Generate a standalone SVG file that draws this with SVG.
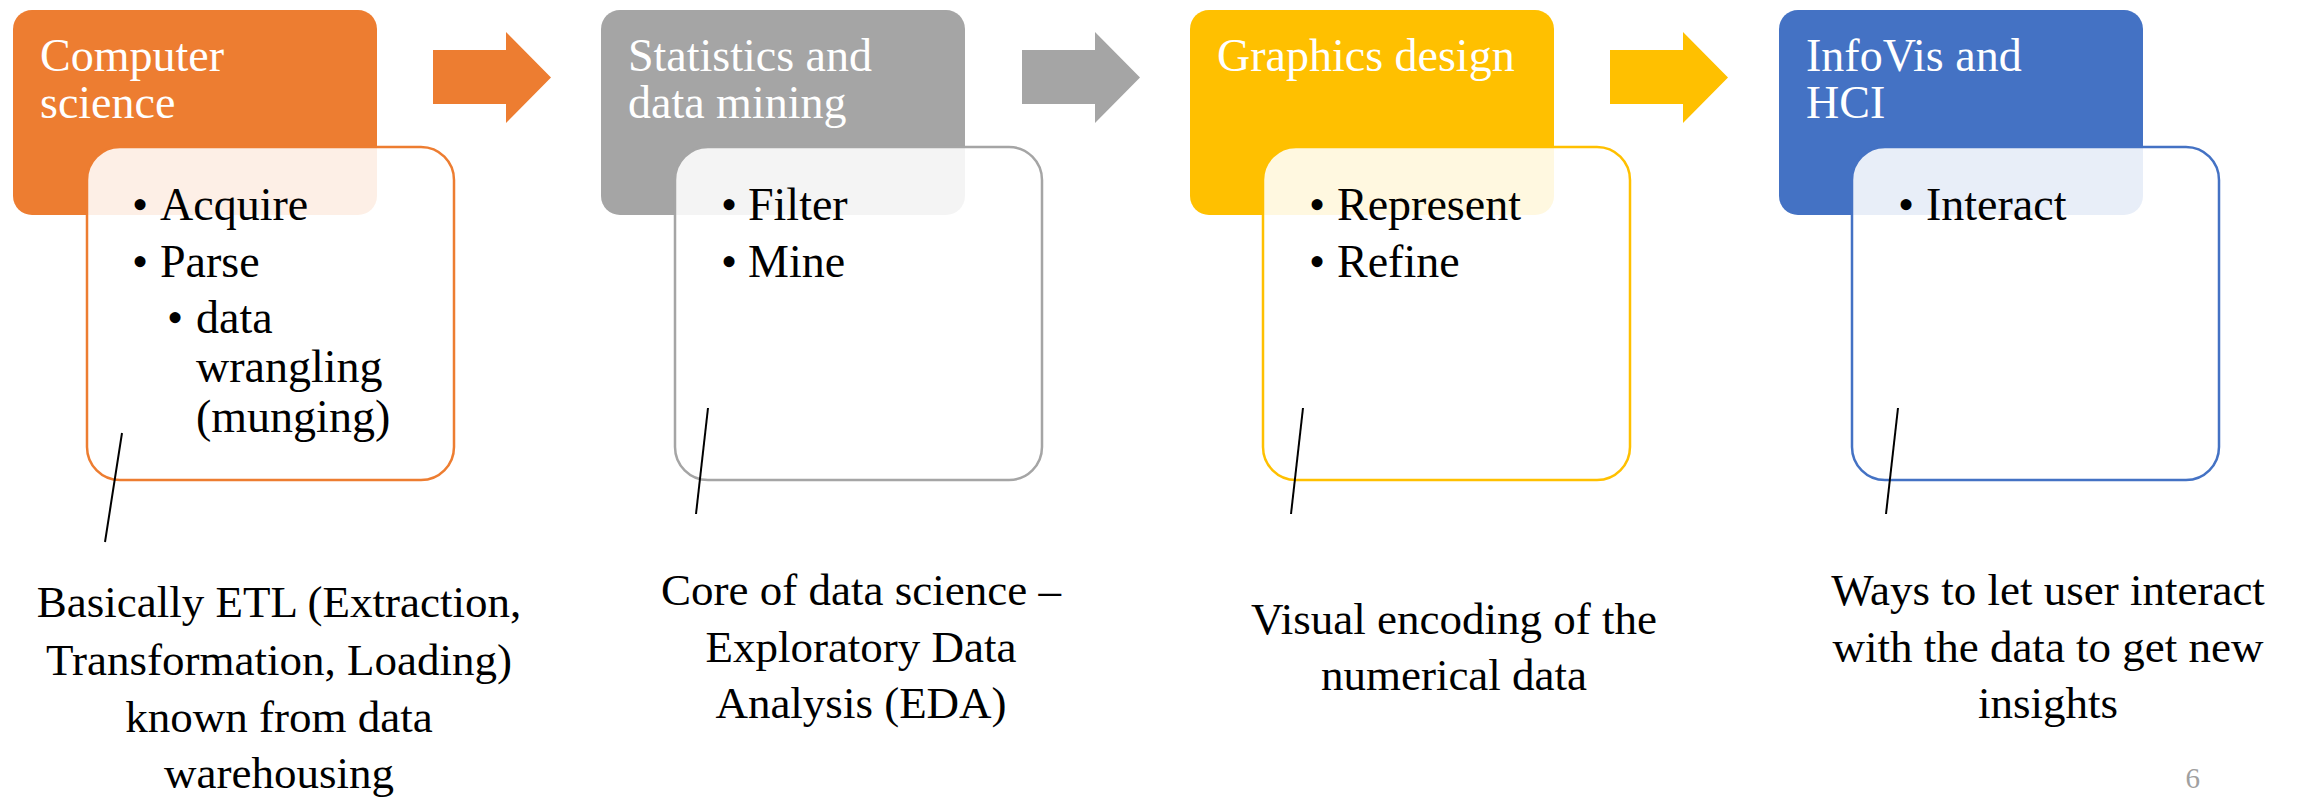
<svg xmlns="http://www.w3.org/2000/svg" width="2300" height="799" viewBox="0 0 2300 799" font-family="'Liberation Serif', 'Times New Roman', serif">
  <defs>
    <style>
      .head { fill: #ffffff; font-size: 46px; font-family: "Liberation Serif", "Times New Roman", serif; }
      .item { fill: #000000; font-size: 46px; font-family: "Liberation Serif", "Times New Roman", serif; }
      .note { fill: #000000; font-size: 45px; text-anchor: middle; font-family: "Liberation Serif", "Times New Roman", serif; }
      .card { fill: #ffffff; fill-opacity: 0.88; stroke-width: 2.5; }
      .lead { stroke: #000000; stroke-width: 2; fill: none; }
      .page { fill: #a0a0a0; font-size: 29px; text-anchor: end; font-family: "Liberation Serif", "Times New Roman", serif; }
    </style>
    <!-- block arrow shape, origin at shaft start -->
    <path id="blockArrow" d="M0,50 H73 V32 L118,77.5 L73,123 V104 H0 Z"/>
  </defs>

  <rect width="2300" height="799" fill="#ffffff"/>

  <!-- Stage 1: Computer science -->
  <g id="node-computer-science">
    <rect x="13" y="10" width="364" height="205" rx="19" fill="#ED7D31"/>
    <text class="head" x="40" y="71">Computer</text>
    <text class="head" x="40" y="118">science</text>
    <rect class="card" x="87" y="147" width="367" height="333" rx="33" stroke="#ED7D31"/>
    <text class="item" x="132" y="220">•</text>
    <text class="item" x="160" y="220">Acquire</text>
    <text class="item" x="132" y="277">•</text>
    <text class="item" x="160" y="277">Parse</text>
    <text class="item" x="167" y="333">•</text>
    <text class="item" x="196" y="333">data</text>
    <text class="item" x="196" y="382">wrangling</text>
    <text class="item" x="196" y="432">(munging)</text>
  </g>

  <!-- Stage 2: Statistics and data mining -->
  <g id="node-statistics">
    <rect x="601" y="10" width="364" height="205" rx="19" fill="#A5A5A5"/>
    <text class="head" x="628" y="71">Statistics and</text>
    <text class="head" x="628" y="118">data mining</text>
    <rect class="card" x="675" y="147" width="367" height="333" rx="33" stroke="#A5A5A5"/>
    <text class="item" x="721" y="220">•</text>
    <text class="item" x="748" y="220">Filter</text>
    <text class="item" x="721" y="277">•</text>
    <text class="item" x="748" y="277">Mine</text>
  </g>

  <!-- Stage 3: Graphics design -->
  <g id="node-graphics-design">
    <rect x="1190" y="10" width="364" height="205" rx="19" fill="#FFC000"/>
    <text class="head" x="1217" y="71">Graphics design</text>
    <rect class="card" x="1263" y="147" width="367" height="333" rx="33" stroke="#FFC000"/>
    <text class="item" x="1309" y="220">•</text>
    <text class="item" x="1337" y="220">Represent</text>
    <text class="item" x="1309" y="277">•</text>
    <text class="item" x="1337" y="277">Refine</text>
  </g>

  <!-- Stage 4: InfoVis and HCI -->
  <g id="node-infovis">
    <rect x="1779" y="10" width="364" height="205" rx="19" fill="#4472C4"/>
    <text class="head" x="1806" y="71">InfoVis and</text>
    <text class="head" x="1806" y="118">HCI</text>
    <rect class="card" x="1852" y="147" width="367" height="333" rx="33" stroke="#4472C4"/>
    <text class="item" x="1898" y="220">•</text>
    <text class="item" x="1926" y="220">Interact</text>
  </g>

  <!-- Flow arrows and callout leaders -->
  <g id="connectors">
    <use href="#blockArrow" x="433" y="0" fill="#ED7D31"/>
    <use href="#blockArrow" x="1022" y="0" fill="#A5A5A5"/>
    <use href="#blockArrow" x="1610" y="0" fill="#FFC000"/>
    <line class="lead" x1="122" y1="433" x2="105" y2="542"/>
    <line class="lead" x1="708" y1="408" x2="696" y2="514"/>
    <line class="lead" x1="1303" y1="408" x2="1291" y2="514"/>
    <line class="lead" x1="1898" y1="408" x2="1886" y2="514"/>
  </g>

  <!-- Descriptions below each stage -->
  <g id="note-etl">
    <text class="note" x="279" y="617">Basically ETL (Extraction,</text>
    <text class="note" x="279" y="675">Transformation, Loading)</text>
    <text class="note" x="279" y="732">known from data</text>
    <text class="note" x="279" y="788">warehousing</text>
  </g>
  <g id="note-eda">
    <text class="note" x="861" y="605">Core of data science –</text>
    <text class="note" x="861" y="662">Exploratory Data</text>
    <text class="note" x="861" y="718">Analysis (EDA)</text>
  </g>
  <g id="note-encoding">
    <text class="note" x="1454" y="634">Visual encoding of the</text>
    <text class="note" x="1454" y="690">numerical data</text>
  </g>
  <g id="note-interact">
    <text class="note" x="2048" y="605">Ways to let user interact</text>
    <text class="note" x="2048" y="662">with the data to get new</text>
    <text class="note" x="2048" y="718">insights</text>
  </g>

  <text class="page" x="2200" y="788">6</text>
</svg>
